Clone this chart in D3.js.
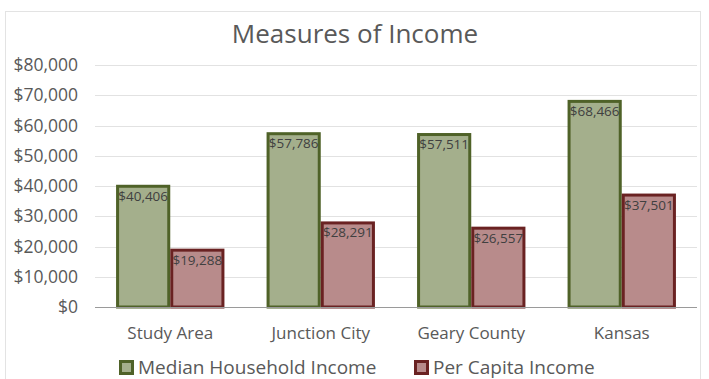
<!DOCTYPE html>
<html>
<head>
<script src="https://d3js.org/d3.v7.min.js"></script>
<style>
  body { margin: 0; background: #fff; }
  text { font-family: "Open Sans", sans-serif; }
</style>
</head>
<body>
<div id="chart"></div>
<script>
const categories = ["Study Area", "Junction City", "Geary County", "Kansas"];
const seriesNames = ["Median Household Income", "Per Capita Income"];
const medianIncome = [40406, 57786, 57511, 68466];
const perCapita = [19288, 28291, 26557, 37501];
const yTicks = [0, 10000, 20000, 30000, 40000, 50000, 60000, 70000, 80000];

const width = 709, height = 379;
const margin = {top: 65, right: 12, bottom: 72, left: 95};
const fills = ["#a4af8c", "#b88b8b"];
const strokes = ["#4f6228", "#6a2222"];

const svg = d3.select("#chart").append("svg")
    .attr("width", width)
    .attr("height", height);

// chart frame
svg.append("rect")
    .attr("x", 5.5).attr("y", 11.5)
    .attr("width", 695).attr("height", 380)
    .attr("fill", "none")
    .attr("stroke", "#e3e3e3");

var x = d3.scaleBand().domain(categories)
    .range([margin.left, width - margin.right])
    .paddingInner(0.28).paddingOuter(0.14);
var xs = d3.scaleBand().domain([0, 1]).range([0, x.bandwidth()]);
var y = d3.scaleLinear().domain([0, 80000]).range([height - margin.bottom, margin.top]);

// gridlines
svg.append("g")
    .selectAll("line")
    .data(yTicks.slice(1))
    .enter().append("line")
    .attr("x1", margin.left).attr("x2", width - margin.right + 0)
    .attr("y1", d => Math.round(y(d)) + 0.5)
    .attr("y2", d => Math.round(y(d)) + 0.5)
    .attr("stroke", "#e2e2e2");

// y labels
var fmt = d3.format("$,");
svg.append("g")
    .selectAll("text")
    .data(yTicks)
    .enter().append("text")
    .attr("x", 78)
    .attr("y", d => y(d))
    .attr("dy", "0.35em")
    .attr("text-anchor", "end")
    .style("font-size", "17.5px")
    .attr("fill", "#595959")
    .text(d => fmt(d));

var rows = [];
categories.forEach(function(c, i) {
    rows.push({cat: c, s: 0, v: medianIncome[i]});
    rows.push({cat: c, s: 1, v: perCapita[i]});
});

svg.append("g")
    .selectAll("rect")
    .data(rows)
    .enter().append("rect")
    .attr("x", d => x(d.cat) + xs(d.s) + 1.5)
    .attr("y", d => y(d.v) + 1.5)
    .attr("width", xs.bandwidth() - 3)
    .attr("height", d => y(0) - y(d.v) - 1.5)
    .attr("fill", d => fills[d.s])
    .attr("stroke", d => strokes[d.s])
    .attr("stroke-width", 3);

// x axis line
svg.append("line")
    .attr("x1", margin.left).attr("x2", width - margin.right)
    .attr("y1", y(0) + 0.5).attr("y2", y(0) + 0.5)
    .attr("stroke", "#9a9a9a");

// value labels
svg.append("g")
    .selectAll("text")
    .data(rows)
    .enter().append("text")
    .attr("x", d => x(d.cat) + xs(d.s) + xs.bandwidth() / 2)
    .attr("y", d => y(d.v) + 16)
    .attr("text-anchor", "middle")
    .style("font-size", "13.5px")
    .attr("fill", "#404040")
    .text(d => fmt(d.v));

// category labels
svg.append("g")
    .selectAll("text")
    .data(categories)
    .enter().append("text")
    .attr("x", d => x(d) + x.bandwidth() / 2)
    .attr("y", 339)
    .attr("text-anchor", "middle")
    .style("font-size", "17px")
    .attr("fill", "#595959")
    .text(d => d);

// title
svg.append("text")
    .attr("x", 355).attr("y", 43)
    .attr("text-anchor", "middle")
    .style("font-size", "26px")
    .attr("fill", "#595959")
    .text("Measures of Income");

// legend
var legendX = [119, 414];
var lg = svg.append("g").selectAll("g")
    .data(seriesNames)
    .enter().append("g")
    .attr("transform", (d, i) => "translate(" + legendX[i] + ",360)");
lg.append("rect")
    .attr("x", 1.5).attr("y", 1.5)
    .attr("width", 12).attr("height", 12)
    .attr("fill", (d, i) => fills[i])
    .attr("stroke", (d, i) => strokes[i])
    .attr("stroke-width", 3);
lg.append("text")
    .attr("x", 19).attr("y", 14)
    .style("font-size", "19px")
    .attr("fill", "#595959")
    .text(d => d);
</script>
</body>
</html>
